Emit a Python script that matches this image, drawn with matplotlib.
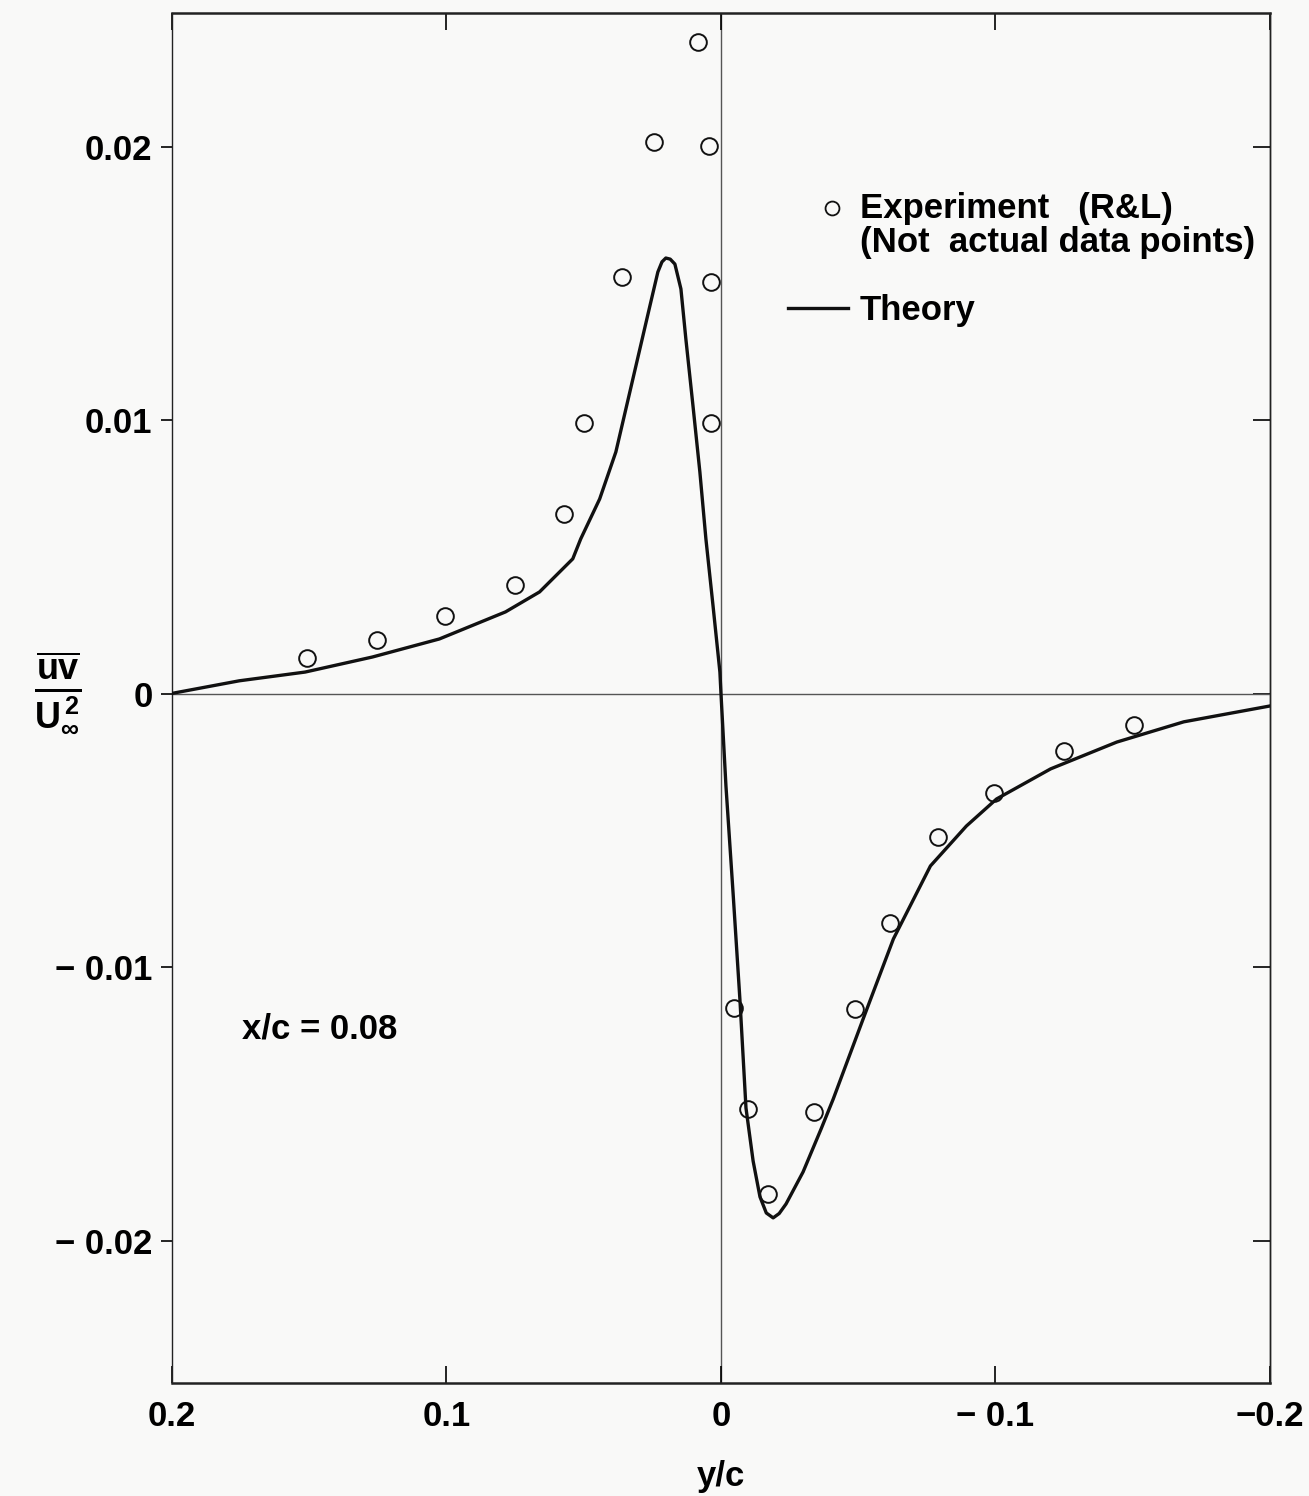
import matplotlib.pyplot as plt
import numpy as np

plt.rcParams['font.family'] = ['Liberation Sans', 'DejaVu Sans']
plt.rcParams['mathtext.fontset'] = 'custom'
plt.rcParams['mathtext.rm'] = 'Liberation Sans:bold'
plt.rcParams['mathtext.it'] = 'Liberation Sans:bold'
plt.rcParams['mathtext.bf'] = 'Liberation Sans:bold'

# experiment points (R&L)
exp_y = [0.151, 0.1255, 0.1004, 0.0752, 0.0573, 0.050, 0.0361, 0.0245, 0.0084,
         0.0044, 0.0036, 0.0036,
         -0.0047, -0.0099, -0.0172, -0.0339, -0.0489, -0.0617, -0.0792,
         -0.0993, -0.1248, -0.1504]
exp_uv = [0.00132, 0.00197, 0.00285, 0.00399, 0.00658, 0.00991, 0.01525, 0.02018,
          0.02384, 0.02004, 0.01506, 0.00991,
          -0.01148, -0.01517, -0.01828, -0.01528, -0.01152, -0.00837, -0.00523,
          -0.00362, -0.00208, -0.00113]

# theory curve
th_y = [0.2, 0.1755, 0.1515, 0.1270, 0.1026, 0.0785, 0.0661, 0.0540, 0.0511,
        0.0442, 0.0383, 0.0321, 0.0259, 0.0230, 0.0215, 0.0201, 0.0185, 0.0168,
        0.0146, 0.0128, 0.0102, 0.0077, 0.0055, 0.0029, 0.0004, 0.0,
        -0.0018, -0.0044, -0.0069, -0.0091, -0.0117, -0.0142, -0.0165, -0.0190,
        -0.0212, -0.0237, -0.0299, -0.0365, -0.0409, -0.0518, -0.0628, -0.0763,
        -0.0894, -0.1004, -0.1201, -0.1442, -0.1686, -0.2]
th_uv = [0.00002, 0.00048, 0.00080, 0.00135, 0.00201, 0.00300, 0.00373, 0.00494,
         0.00567, 0.00713, 0.00885, 0.01152, 0.01419, 0.01543, 0.01580, 0.01594,
         0.01590, 0.01572, 0.01481, 0.01298, 0.01053, 0.00812, 0.00567, 0.00322,
         0.0008, 0.0,
         -0.00336, -0.00728, -0.01119, -0.01514, -0.01708, -0.01839, -0.01898,
         -0.01916, -0.01900, -0.01865, -0.01748, -0.01590, -0.01481, -0.01188,
         -0.00896, -0.00629, -0.00483, -0.00384, -0.00274, -0.00176, -0.00102,
         -0.00044]

xticks = [0.2, 0.1, 0, -0.1, -0.2]
xlabels = ['0.2', '0.1', '0', '\u2212 0.1', '\u22120.2']
yticks = [0.02, 0.01, 0, -0.01, -0.02]
ylabels = ['0.02', '0.01', '0', '\u2212 0.01', '\u2212 0.02']

fig = plt.figure(figsize=(13.09, 14.96), dpi=100)
fig.patch.set_facecolor('#f9f9f8')
ax = fig.add_axes([0.1314, 0.0755, 0.8388, 0.9158])
ax.set_facecolor('#f9f9f8')

ax.axhline(0, color='#555555', lw=1.0, zorder=1)
ax.axvline(0, color='#555555', lw=1.0, zorder=1)

ax.plot(th_y, th_uv, color='#111111', lw=2.4, zorder=3, solid_joinstyle='round')
ax.plot(exp_y, exp_uv, 'o', ms=12, mfc='none', mec='#111111', mew=1.4, zorder=4)

ax.set_xlim(0.2, -0.2)
ax.set_ylim(-0.0252, 0.0249)

ax.set_xticks(xticks)
ax.set_xticklabels(xlabels, fontsize=25, fontweight='bold')
ax.set_yticks(yticks)
ax.set_yticklabels(ylabels, fontsize=25, fontweight='bold')
ax.tick_params(axis='x', direction='in', top=True, length=12, width=1.2, pad=12)
ax.tick_params(axis='y', direction='out', left=True, right=False, length=8, width=1.2, pad=6)
ax2 = ax.secondary_yaxis('right')
ax2.set_yticks(yticks)
ax2.tick_params(axis='y', direction='in', length=12, width=1.2, labelright=False)
ax2.spines['right'].set_linewidth(1.0)

for s in ax.spines.values():
    s.set_linewidth(1.8)
    s.set_color('#222222')
ax.spines['left'].set_linewidth(1.0)
ax.spines['right'].set_linewidth(1.0)

ax.set_xlabel('y/c', fontsize=25, fontweight='bold', labelpad=20)
fig.text(0.044, 0.537, r'$\frac{\overline{\mathrm{uv}}}{\mathrm{U}_\infty^{\,2}}$',
         fontsize=37, ha='center', va='center')

ax.text(0.1745, -0.01225, 'x/c = 0.08', fontsize=25, fontweight='bold',
        ha='left', va='center')

# legend, placed like the original key
ax.plot([0.601], [0.8577], 'o', ms=10, mfc='none', mec='#111111', mew=1.3,
        transform=ax.transAxes, clip_on=False)
ax.text(0.6266, 0.8504, 'Experiment   (R&L)', fontsize=25, fontweight='bold',
        transform=ax.transAxes, va='baseline', ha='left')
ax.text(0.6266, 0.8255, '(Not  actual data points)', fontsize=25, fontweight='bold',
        transform=ax.transAxes, va='baseline', ha='left')
ax.plot([0.561, 0.6157], [0.7847, 0.7847], color='#111111', lw=2.4,
        transform=ax.transAxes)
ax.text(0.6266, 0.7759, 'Theory', fontsize=25, fontweight='bold',
        transform=ax.transAxes, va='baseline', ha='left')

fig.savefig('out.png', dpi=100, facecolor=fig.get_facecolor())
